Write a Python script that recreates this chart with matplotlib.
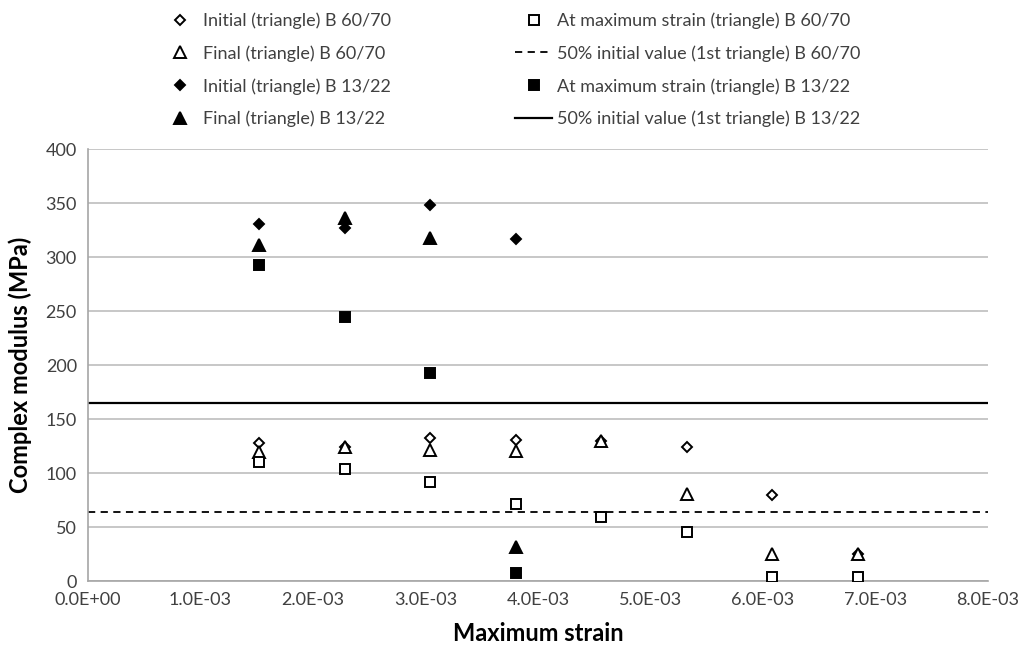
import numpy as np
import matplotlib
matplotlib.use("Agg")
import matplotlib.pyplot as plt
from matplotlib.ticker import FuncFormatter

plt.rcParams['font.family'] = ['Lato', 'DejaVu Sans']

# strain levels of the triangle tests
strain_6070 = [1.52e-3, 2.28e-3, 3.04e-3, 3.80e-3, 4.56e-3, 5.32e-3, 6.08e-3, 6.84e-3]
strain_1322 = [1.52e-3, 2.28e-3, 3.04e-3, 3.80e-3]

# complex modulus (MPa), B 60/70
initial_6070 = [128, 124, 132.5, 131, 130, 124, 79.5, 25]
final_6070 = [119.5, 124, 121, 120, 130, 81, 25, 25]
maxstrain_6070 = [110, 103.5, 92, 71, 59, 45, 4, 4]

# complex modulus (MPa), B 13/22
initial_1322 = [330.5, 326.5, 348, 317]
final_1322 = [311, 336, 318, 31.5]
maxstrain_1322 = [293, 244.5, 193, 7.5]

half_6070 = 0.5 * initial_6070[0]
half_1322 = 0.5 * initial_1322[0]

fig = plt.figure(figsize=(10.19, 6.5), dpi=100)
ax = fig.add_axes([88 / 1019, 1 - 581 / 650, 900 / 1019, 432 / 650])

mk = dict(linestyle='none', markeredgecolor='black', markeredgewidth=1.4, zorder=3)
h1, = ax.plot(strain_6070, initial_6070, marker='D', markersize=5.5, markerfacecolor='white',
              label='Initial (triangle) B 60/70', **mk)
h2, = ax.plot(strain_6070, final_6070, marker='^', markersize=8, markerfacecolor='white',
              label='Final (triangle) B 60/70', **mk)
h3, = ax.plot(strain_1322, initial_1322, marker='D', markersize=5.5, markerfacecolor='black',
              label='Initial (triangle) B 13/22', **mk)
h4, = ax.plot(strain_1322, final_1322, marker='^', markersize=8, markerfacecolor='black',
              label='Final (triangle) B 13/22', **mk)
h5, = ax.plot(strain_6070, maxstrain_6070, marker='s', markersize=7.5, markerfacecolor='white',
              label='At maximum strain (triangle) B 60/70', **mk)
h7, = ax.plot(strain_1322, maxstrain_1322, marker='s', markersize=7.5, markerfacecolor='black',
              label='At maximum strain (triangle) B 13/22', **mk)
h6 = ax.axhline(half_6070, color='black', linestyle=(0, (4, 3)), linewidth=1.3,
                label='50% initial value (1st triangle) B 60/70', zorder=2)
h8 = ax.axhline(half_1322, color='black', linestyle='-', linewidth=1.6,
                label='50% initial value (1st triangle) B 13/22', zorder=2)

ax.set_xlim(0, 8e-3)
ax.set_ylim(0, 400)
ax.set_xticks(np.arange(0, 8.01e-3, 1e-3))
ax.set_yticks(np.arange(0, 401, 50))
ax.xaxis.set_major_formatter(FuncFormatter(lambda v, p: f"{v:.1E}"))
ax.yaxis.grid(True, color='#bdbdbd', linewidth=1.2)
ax.set_axisbelow(True)
for s in ['top', 'right']:
    ax.spines[s].set_visible(False)
for s in ['left', 'bottom']:
    ax.spines[s].set_color('#a6a6a6')
    ax.spines[s].set_linewidth(1.2)
ax.tick_params(length=0, labelsize=13, colors='#404040', pad=8)
ax.set_xlabel('Maximum strain', fontsize=17, fontweight='bold', labelpad=10)
ax.set_ylabel('Complex modulus (MPa)', fontsize=17, fontweight='bold', labelpad=10)

fig.legend(handles=[h1, h2, h3, h4, h5, h6, h7, h8], ncol=2, frameon=False,
           loc='upper left', bbox_to_anchor=(145 / 1019, 1.006), fontsize=13,
           labelspacing=0.9, columnspacing=6.9, handlelength=2.05, handletextpad=0.25,
           labelcolor='#404040')

fig.savefig('out.png', dpi=100)
